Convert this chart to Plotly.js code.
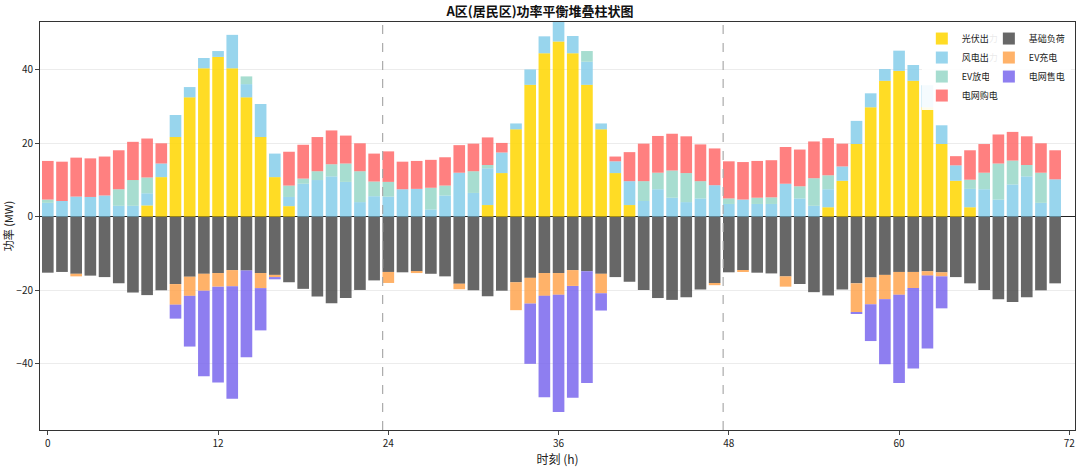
<!DOCTYPE html>
<html>
<head>
<meta charset="utf-8">
<script src="https://cdn.plot.ly/plotly-3.0.1.min.js"></script>
<style>body{margin:0;background:#fff}#chart{width:1080px;height:467px}</style>
</head>
<body>
<div id="chart"></div>
<script>
const hours = Array.from({length: 72}, (_, i) => i);

const pv = [0,0,0,0,0,0,0,3.1,10.8,21.7,32.5,40.4,43.5,40.4,32.5,21.7,10.8,2.9,0,0,0,0,0,0,
            0,0,0,0,0,0,0,3.2,11.9,23.8,35.9,44.5,47.7,44.5,35.9,23.8,11.9,3.2,0,0,0,0,0,0,
            0,0,0,0,0,0,0,2.6,9.8,19.8,29.8,37,39.7,37,29.8,19.8,9.8,2.6,0,0,0,0,0,0];
const wind = [3.8,4.3,5.5,5.4,5.8,3,3,3.3,3.7,6,2.8,2.8,1.6,9.1,3.6,9,6.4,2.5,9,10,11,9.5,4,5.6,
              5.5,7.5,7.6,2,5.8,12,6.5,10,5.6,1.6,4.2,4.6,5.3,4.7,6.3,1.6,3.2,6.5,4.3,7.5,5.2,4,5,8.6,
              3.5,4.7,3.5,3.5,9,5,3,4.9,3.9,6.3,3.8,3.2,5.5,4.3,6,5.1,4.2,5,7.5,4.7,8.8,11,3.8,10.2];
const evDischarge = [0.9,0,0,0,0,4.5,7,4.3,0,0,0,0,0,0,2.1,0,0,3.1,1.4,2.4,3.3,5,8.4,4,
                     4,0,0,5.9,2.7,0,5.9,0.9,0,0,0,0,0,0,2.9,0,0,0,5.4,4.5,7.4,7.9,4.7,0,
                     1.5,0,1.7,1.8,0,3.3,7.5,3.8,0,0,0,0,0,0,0,0,0,2.5,4.5,9.8,6.5,3.1,8.2,0];
const gridBuy = [10.5,10.7,10.6,10.5,10.6,10.6,10.4,10.6,5.5,0,0,0,0,0,0,0,0,9.2,9.2,9.3,9.2,7.6,7.6,7.6,
                 8.3,7.5,7.6,7.6,7.7,7.5,7.5,7.5,2.6,0,0,0,0,0,0,0,1.3,7.9,10.2,10,10,10,10,10,
                 10.1,10.2,10,10.1,10,10,10,10.1,6.2,0,0,0,0,0,0,0,2.5,8,7.8,7.9,7.8,7.8,8,7.9];
const baseLoad = [15.2,15,15.5,16,16.4,18.1,20.6,21.3,20,18.3,16.3,15.5,15.3,14.5,14.6,15.3,15.8,17.8,19.6,21.7,23.5,22.1,19.9,17.3,
                  15,15.1,14.8,15.5,16.2,18.2,20,21.6,20.1,17.8,16.6,15.3,15.3,14.5,14.8,15.5,16.4,17.7,19.9,22.1,22.6,21.9,19.8,18,
                  15.1,14.5,15.2,15.4,16.2,18.3,20.5,21.4,19.8,18.1,16.5,15.8,15,15,14.8,15.1,16.4,18.1,19.9,22.4,23.2,21.9,20,18.1];
const evCharge = [0,0,0.7,0,0,0,0,0,0,5.6,5.2,4.6,3.7,4.4,0,4.1,0.6,0,0,0,0,0,0,0,
                  3,0,0.5,0,0,1.5,0,0,0,7.6,7,6.2,5.9,4.3,0,5.3,0,0,0,0,0,0,0,0.6,
                  0,0.3,0,0,2.8,0,0,0,0,7.8,7.3,6.6,6.2,4.4,1.2,1.1,0,0,0,0,0,0,0,0];
const gridSell = [0,0,0,0,0,0,0,0,0,3.8,13.8,23.3,26.1,30.6,23.6,11.5,0.6,0,0,0,0,0,0,0,
                  0,0,0,0,0,0,0,0,0,0,16.4,27.6,31.9,30.4,30.4,4.7,0,0,0,0,0,0,0,0,
                  0,0,0,0,0,0,0,0,0,0.4,10,17.7,24,21.9,19.8,8.7,0,0,0,0,0,0,0,0];
const neg = a => a.map(v => -v);

const font = "Noto Sans CJK SC, DejaVu Sans, sans-serif";
function bar(name, y, color, legend) {
  return {type: 'bar', x: hours, y: y, name: name, legend: legend,
          marker: {color: color, line: {width: 0}}, opacity: 0.85,
          hovertemplate: '%{y:.1f} MW<extra>' + name + '</extra>'};
}

const data = [
  bar('光伏出力', pv, '#FFD700', 'legend'),
  bar('风电出力', wind, '#87CEEB', 'legend'),
  bar('EV放电', evDischarge, '#98D8C8', 'legend'),
  bar('电网购电', gridBuy, '#FF6B6B', 'legend'),
  bar('基础负荷', neg(baseLoad), '#4D4D4D', 'legend2'),
  bar('EV充电', neg(evCharge), '#FFA54F', 'legend2'),
  bar('电网售电', neg(gridSell), '#7B68EE', 'legend2'),
];

const dayLine = x => ({type: 'line', xref: 'x', yref: 'paper', x0: x, x1: x, y0: 0, y1: 1,
                       line: {color: '#aaaaaa', width: 1.2, dash: 'dash'}});

const layout = {
  width: 1080, height: 467,
  margin: {l: 40, r: 5, t: 22, b: 37},
  barmode: 'relative',
  bargap: 0.18,
  font: {family: font, size: 10, color: '#222'},
  title: {text: '<b>A区(居民区)功率平衡堆叠柱状图</b>', x: 0.5, y: 0.985, yanchor: 'top',
          font: {family: font, size: 13, color: '#111'}},
  xaxis: {range: [-0.55, 72.4], tickvals: [0, 12, 24, 36, 48, 60, 72], ticks: 'outside', ticklen: 4,
          showgrid: false, zeroline: false, showline: true, mirror: true, linecolor: '#333',
          title: {text: '时刻 (h)', font: {family: font, size: 12}, standoff: 2}},
  yaxis: {range: [-58, 53], tickvals: [-40, -20, 0, 20, 40], ticks: 'outside', ticklen: 4,
          showgrid: true, gridcolor: '#ececec', zeroline: true, zerolinecolor: '#222', zerolinewidth: 1,
          showline: true, mirror: true, linecolor: '#333',
          title: {text: '功率 (MW)', font: {family: font, size: 11}, standoff: 4}},
  shapes: [dayLine(23.6), dayLine(47.6)],
  legend: {x: 0.852, y: 0.995, xanchor: 'left', yanchor: 'top', bgcolor: 'rgba(255,255,255,0.9)',
           font: {size: 9}, itemwidth: 30, tracegroupgap: 0},
  legend2: {x: 0.996, y: 0.995, xanchor: 'right', yanchor: 'top', bgcolor: 'rgba(255,255,255,0.9)',
            font: {size: 9}, itemwidth: 30, tracegroupgap: 0},
  showlegend: true,
  plot_bgcolor: '#fff', paper_bgcolor: '#fff'
};

Plotly.newPlot('chart', data, layout, {displayModeBar: false});
</script>
</body>
</html>
